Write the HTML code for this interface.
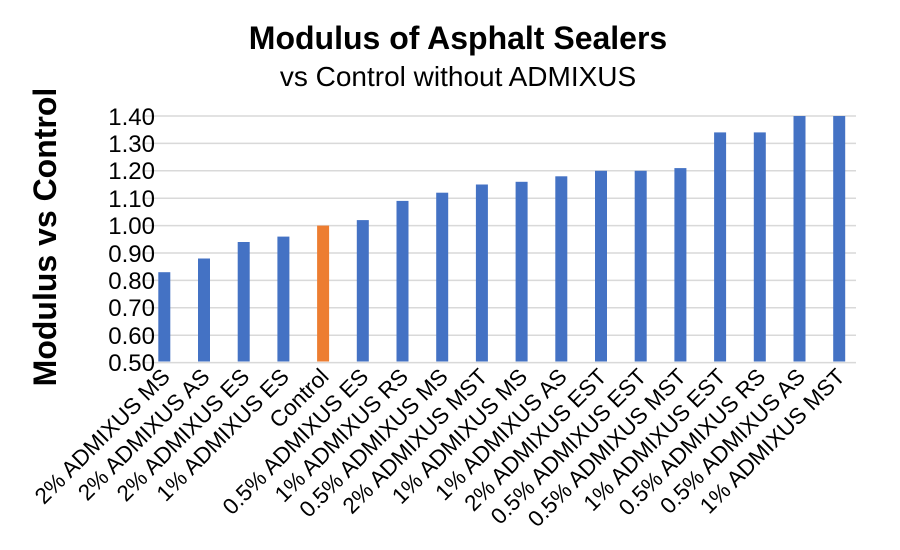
<!DOCTYPE html>
<html><head><meta charset="utf-8"><style>body{margin:0;background:#fff}svg{display:block}</style></head>
<body>
<svg width="900" height="550" xmlns="http://www.w3.org/2000/svg" font-family="Liberation Sans, sans-serif">
<text x="458" y="49" text-anchor="middle" font-size="32" font-weight="bold">Modulus of Asphalt Sealers</text>
<text x="458" y="86" text-anchor="middle" font-size="28">vs Control without ADMIXUS</text>
<text transform="translate(56,237) rotate(-90)" text-anchor="middle" font-size="32" font-weight="bold">Modulus vs Control</text>
<g stroke="#d9d9d9" stroke-width="1.5">
<line x1="144" x2="856" y1="116" y2="116"/><line x1="144" x2="856" y1="143.4" y2="143.4"/><line x1="144" x2="856" y1="170.8" y2="170.8"/><line x1="144" x2="856" y1="198.2" y2="198.2"/><line x1="144" x2="856" y1="225.6" y2="225.6"/><line x1="144" x2="856" y1="253" y2="253"/><line x1="144" x2="856" y1="280.4" y2="280.4"/><line x1="144" x2="856" y1="307.8" y2="307.8"/><line x1="144" x2="856" y1="335.2" y2="335.2"/><line x1="144" x2="856" y1="362.6" y2="362.6"/>
</g>
<g font-size="24" text-anchor="end">
<text x="155" y="125">1.40</text><text x="155" y="152">1.30</text><text x="155" y="179">1.20</text><text x="155" y="207">1.10</text><text x="155" y="234">1.00</text><text x="155" y="262">0.90</text><text x="155" y="289">0.80</text><text x="155" y="316">0.70</text><text x="155" y="344">0.60</text><text x="155" y="371">0.50</text>
</g>
<g fill="#4472c4">
<rect x="158.3" y="272.2" width="12" height="89.3"/>
<rect x="198" y="258.5" width="12" height="103"/>
<rect x="237.7" y="242" width="12" height="119.5"/>
<rect x="277.4" y="236.6" width="12" height="124.9"/>
<rect x="317.1" y="225.6" width="12" height="135.9" fill="#ed7d31"/>
<rect x="356.8" y="220.1" width="12" height="141.4"/>
<rect x="396.5" y="200.9" width="12" height="160.6"/>
<rect x="436.2" y="192.7" width="12" height="168.8"/>
<rect x="475.9" y="184.5" width="12" height="177"/>
<rect x="515.6" y="181.8" width="12" height="179.7"/>
<rect x="555.3" y="176.3" width="12" height="185.2"/>
<rect x="595" y="170.8" width="12" height="190.7"/>
<rect x="634.7" y="170.8" width="12" height="190.7"/>
<rect x="674.4" y="168.1" width="12" height="193.4"/>
<rect x="714.1" y="132.4" width="12" height="229.1"/>
<rect x="753.8" y="132.4" width="12" height="229.1"/>
<rect x="793.5" y="116" width="12" height="245.5"/>
<rect x="833.2" y="116" width="12" height="245.5"/>
</g>
<g font-size="22.5" text-anchor="end">
<text transform="translate(171.3,378) rotate(-45)">2% ADMIXUS MS</text>
<text transform="translate(211,378) rotate(-45)">2% ADMIXUS AS</text>
<text transform="translate(250.7,378) rotate(-45)">2% ADMIXUS ES</text>
<text transform="translate(290.4,378) rotate(-45)">1% ADMIXUS ES</text>
<text transform="translate(330.1,378) rotate(-45)">Control</text>
<text transform="translate(369.8,378) rotate(-45)">0.5% ADMIXUS ES</text>
<text transform="translate(409.5,378) rotate(-45)">1% ADMIXUS RS</text>
<text transform="translate(449.2,378) rotate(-45)">0.5% ADMIXUS MS</text>
<text transform="translate(488.9,378) rotate(-45)">2% ADMIXUS MST</text>
<text transform="translate(528.6,378) rotate(-45)">1% ADMIXUS MS</text>
<text transform="translate(568.3,378) rotate(-45)">1% ADMIXUS AS</text>
<text transform="translate(608,378) rotate(-45)">2% ADMIXUS EST</text>
<text transform="translate(647.7,378) rotate(-45)">0.5% ADMIXUS EST</text>
<text transform="translate(687.4,378) rotate(-45)">0.5% ADMIXUS MST</text>
<text transform="translate(727.1,378) rotate(-45)">1% ADMIXUS EST</text>
<text transform="translate(766.8,378) rotate(-45)">0.5% ADMIXUS RS</text>
<text transform="translate(806.5,378) rotate(-45)">0.5% ADMIXUS AS</text>
<text transform="translate(846.2,378) rotate(-45)">1% ADMIXUS MST</text>
</g>
</svg>
</body></html>
